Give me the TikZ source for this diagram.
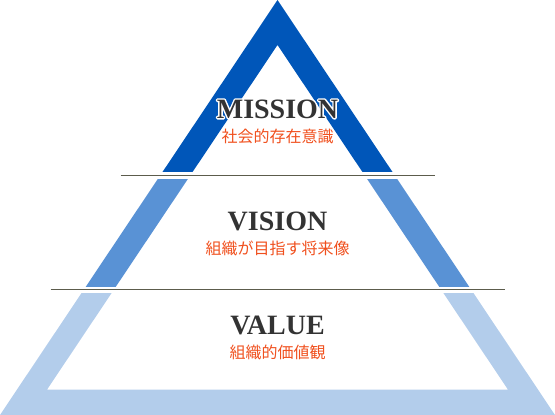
\documentclass[tikz,border=0pt]{standalone}
\usepackage{fontspec}
\setmainfont{Liberation Serif}
\newfontfamily\jpfont{Noto Sans CJK JP}
\usetikzlibrary{positioning}
\definecolor{missionblue}{RGB}{0,86,185}
\definecolor{visionblue}{RGB}{89,146,213}
\definecolor{valueblue}{RGB}{179,205,235}
\definecolor{rulegray}{RGB}{92,92,76}
\definecolor{titlegray}{RGB}{51,51,51}
\definecolor{subred}{RGB}{240,80,30}
% white rim drawn under a title
\newcommand\whiterim[1]{\special{pdf:literal direct 2 Tr 2.8 w 1 j}#1\special{pdf:literal direct 0 Tr}}

\begin{document}
\begin{tikzpicture}[x=1pt,y=-1pt,
  title/.style={inner sep=0pt,text=titlegray,font=\fontsize{28}{30}\selectfont\bfseries},
  sub/.style={inner sep=0pt,text=subred,font=\jpfont\fontsize{16}{18}\selectfont}]
\useasboundingbox (0,0) rectangle (555,415);
% the pyramid frame, cut into three bands
\foreach \col/\top/\bot in {missionblue/0/171,visionblue/179/286,valueblue/293/415}{
  \begin{scope}
    \clip (0,\top) rectangle (555,\bot);
    \fill[\col,even odd rule] (277.5,0)--(0,415)--(555,415)--cycle
      (277.5,45)--(47.1,389.5)--(507.9,389.5)--cycle;
  \end{scope}
}
\foreach \y/\w in {175/157,289.5/227} \draw[rulegray,line width=1pt] (277.5-\w,\y)--(277.5+\w,\y);
\node[title,text=white] (missionrim) at (277.5,109) {\whiterim{MISSION}};
\node[title] (mission) at (missionrim) {MISSION};
\node[sub,below=10pt of mission] (missionsub) {社会的存在意識};
\node[title] (vision) at (277.5,221) {VISION};
\node[sub,below=10pt of vision] (visionsub) {組織が目指す将来像};
\node[title] (value) at (277.5,325) {VALUE};
\node[sub,below=10pt of value] (valuesub) {組織的価値観};
\end{tikzpicture}
\end{document}
